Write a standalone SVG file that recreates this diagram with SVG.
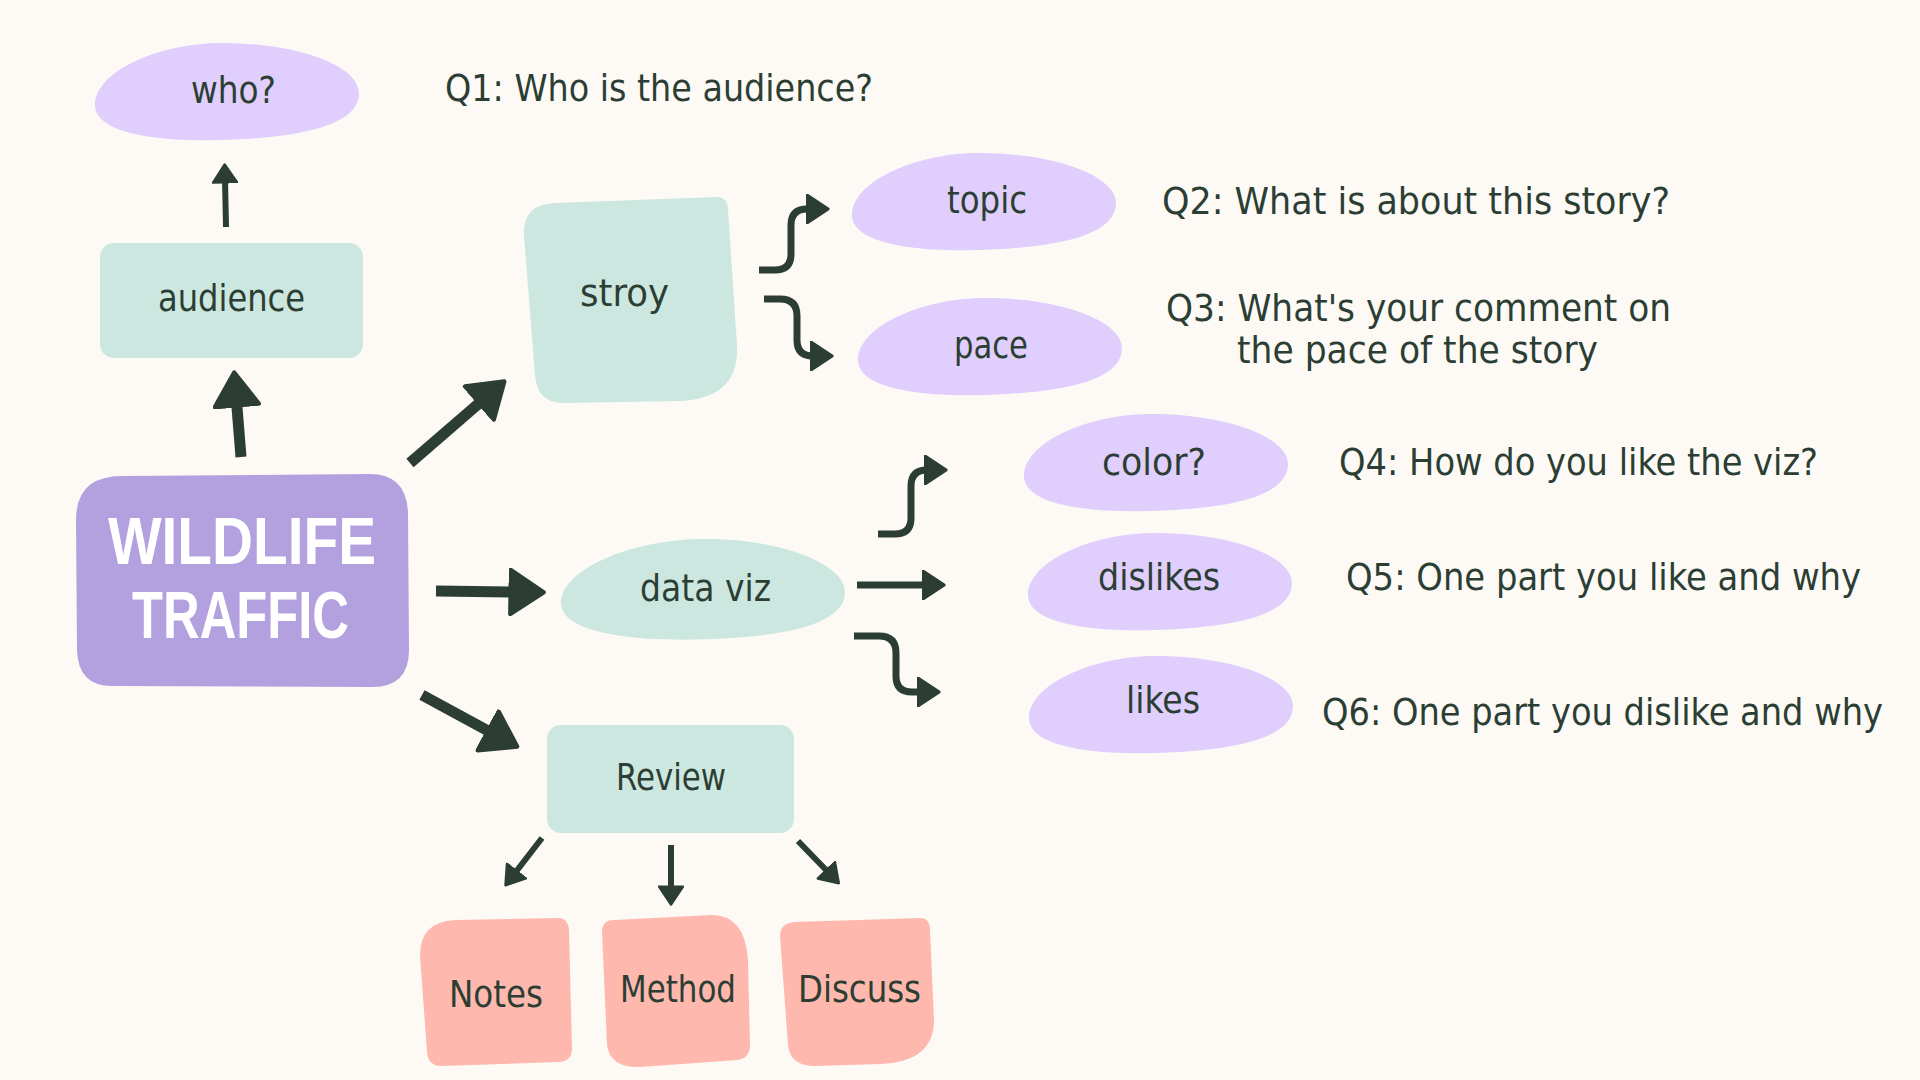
<svg xmlns="http://www.w3.org/2000/svg" xmlns:xlink="http://www.w3.org/1999/xlink" width="1920" height="1080" viewBox="0 0 1920 1080">
  <defs>
    <style>
      .lbl { font-family: "Liberation Sans Narrow", "DejaVu Sans Condensed", "Liberation Sans", sans-serif; font-size: 38px; fill: #2c3e33; }
      .q { font-family: "Liberation Sans Narrow", "DejaVu Sans Condensed", "Liberation Sans", sans-serif; font-size: 38px; fill: #2c3e33; }
      .title { font-family: "Liberation Sans", "DejaVu Sans", sans-serif; font-size: 66px; font-weight: bold; fill: #ffffff; }
      .lav { fill: #e0cffc; }
      .mint { fill: #cce7df; }
      .purple { fill: #b3a0de; }
      .salmon { fill: #ffb8ae; }
      .conn { fill: none; stroke: #2c3e33; stroke-linecap: butt; stroke-linejoin: round; marker-end: url(#ah); }
      .thick { stroke-width: 11; }
      .thin { stroke-width: 6; }
      .mid { stroke-width: 7; }
    </style>
    <marker id="ah" viewBox="0 0 3.4 4.4" refX="0.6" refY="2.2" markerWidth="3.4" markerHeight="4.4" orient="auto" markerUnits="strokeWidth">
      <path d="M0.2,0.2 L3.2,2.2 L0.2,4.2 Z" fill="#2c3e33" stroke="#2c3e33" stroke-width="0.4" stroke-linejoin="round"/>
    </marker>
    <path id="blob" d="M0,62 C0,30 60,0 128,0 C200,0 264,22 264,50 C264,80 215,92 150,96 C70,101 0,92 0,62 Z"/>
  </defs>

  <rect x="0" y="0" width="1920" height="1080" fill="#fdfaf6"/>

  <g id="connectors">
    <path class="conn thin" d="M226,227 L225,180"/>
    <path class="conn thick" d="M241,457 L236.5,401"/>
    <path class="conn thick" d="M410,463 L482.7,400.1"/>
    <path class="conn thick" d="M436,591 L515,592"/>
    <path class="conn thick" d="M422,695 L492,733"/>
    <path class="conn mid" d="M759,270 L775,270 Q791,270 791,254 L791,225 Q791,209 807,209 L810,209"/>
    <path class="conn mid" d="M764,299 L780,299 Q797,299 797,316 L797,340 Q797,356 813,356 L814,356"/>
    <path class="conn mid" d="M878,534 L895,534 Q911,534 911,518 L911,486 Q911,470 927,470 L928,470"/>
    <path class="conn mid" d="M857,585 L926,585"/>
    <path class="conn mid" d="M854,636 L879,636 Q896,636 896,653 L896,676 Q896,692 912,692 L921,692"/>
    <path class="conn thin" d="M542,838 L515,873"/>
    <path class="conn thin" d="M671,845 L671,889"/>
    <path class="conn thin" d="M798,841 L828,872"/>
  </g>

  <g id="node-wildlife">
    <path class="purple" d="M76,520 Q76,476 122,476 L370,474 Q406,474 408,512 L409,650 Q409,687 372,687 L112,686 Q78,686 77,650 Z"/>
    <text class="title" x="108" y="564" textLength="268" lengthAdjust="spacingAndGlyphs">WILDLIFE</text>
    <text class="title" x="132" y="638" textLength="217" lengthAdjust="spacingAndGlyphs">TRAFFIC</text>
  </g>

  <g id="node-audience">
    <rect class="mint" x="100" y="243" width="263" height="115" rx="14"/>
    <text class="lbl" x="158" y="311" textLength="147" lengthAdjust="spacingAndGlyphs">audience</text>
  </g>

  <g id="node-who">
    <use xlink:href="#blob" class="lav" transform="translate(95,43)"/>
    <text class="lbl" x="191" y="103" textLength="85" lengthAdjust="spacingAndGlyphs">who?</text>
  </g>
  <g id="text-q1">
    <text class="q" x="445" y="101" textLength="428" lengthAdjust="spacingAndGlyphs">Q1: Who is the audience?</text>
  </g>

  <g id="node-stroy">
    <path class="mint" d="M524,236 Q522,204 556,203 L716,197 Q728,197 728,210 L737,345 Q740,398 680,401 L565,403 Q537,404 535,375 Z"/>
    <text class="lbl" x="580" y="306" textLength="89" lengthAdjust="spacingAndGlyphs">stroy</text>
  </g>

  <g id="node-topic">
    <use xlink:href="#blob" class="lav" transform="translate(852,153)"/>
    <text class="lbl" x="947" y="213" textLength="80" lengthAdjust="spacingAndGlyphs">topic</text>
  </g>
  <g id="text-q2">
    <text class="q" x="1162" y="214" textLength="508" lengthAdjust="spacingAndGlyphs">Q2: What is about this story?</text>
  </g>

  <g id="node-pace">
    <use xlink:href="#blob" class="lav" transform="translate(858,298)"/>
    <text class="lbl" x="954" y="358" textLength="74" lengthAdjust="spacingAndGlyphs">pace</text>
  </g>
  <g id="text-q3">
    <text class="q" x="1166" y="321" textLength="505" lengthAdjust="spacingAndGlyphs">Q3: What's your comment on</text>
    <text class="q" x="1237" y="363" textLength="361" lengthAdjust="spacingAndGlyphs">the pace of the story</text>
  </g>

  <g id="node-dataviz">
    <path class="mint" d="M561,603 C561,570 630,539 705,539 C785,539 845,565 845,592 C845,620 800,634 730,638 C640,644 561,634 561,603 Z"/>
    <text class="lbl" x="640" y="601" textLength="131" lengthAdjust="spacingAndGlyphs">data viz</text>
  </g>

  <g id="node-color">
    <use xlink:href="#blob" class="lav" transform="translate(1024,414)"/>
    <text class="lbl" x="1102" y="475" textLength="104" lengthAdjust="spacingAndGlyphs">color?</text>
  </g>
  <g id="text-q4">
    <text class="q" x="1339" y="475" textLength="479" lengthAdjust="spacingAndGlyphs">Q4: How do you like the viz?</text>
  </g>

  <g id="node-dislikes">
    <use xlink:href="#blob" class="lav" transform="translate(1028,533)"/>
    <text class="lbl" x="1098" y="590" textLength="122" lengthAdjust="spacingAndGlyphs">dislikes</text>
  </g>
  <g id="text-q5">
    <text class="q" x="1346" y="590" textLength="515" lengthAdjust="spacingAndGlyphs">Q5: One part you like and why</text>
  </g>

  <g id="node-likes">
    <use xlink:href="#blob" class="lav" transform="translate(1029,656)"/>
    <text class="lbl" x="1126" y="713" textLength="74" lengthAdjust="spacingAndGlyphs">likes</text>
  </g>
  <g id="text-q6">
    <text class="q" x="1322" y="725" textLength="561" lengthAdjust="spacingAndGlyphs">Q6: One part you dislike and why</text>
  </g>

  <g id="node-review">
    <rect class="mint" x="547" y="725" width="247" height="108" rx="14"/>
    <text class="lbl" x="616" y="790" textLength="110" lengthAdjust="spacingAndGlyphs">Review</text>
  </g>

  <g id="node-notes">
    <path class="salmon" d="M420,955 Q420,922 455,920 L558,918 Q568,918 569,930 L572,1048 Q572,1062 558,1062 L442,1066 Q428,1066 427,1052 Z"/>
    <text class="lbl" x="449" y="1007" textLength="94" lengthAdjust="spacingAndGlyphs">Notes</text>
  </g>
  <g id="node-method">
    <path class="salmon" d="M602,932 Q602,920 614,920 L712,915 Q745,915 748,960 L750,1045 Q750,1058 738,1060 L640,1067 Q610,1068 607,1045 Z"/>
    <text class="lbl" x="620" y="1002" textLength="116" lengthAdjust="spacingAndGlyphs">Method</text>
  </g>
  <g id="node-discuss">
    <path class="salmon" d="M780,936 Q780,923 795,922 L920,918 Q930,918 930,930 L934,1020 Q934,1062 880,1064 L815,1066 Q790,1066 788,1045 Z"/>
    <text class="lbl" x="798" y="1002" textLength="123" lengthAdjust="spacingAndGlyphs">Discuss</text>
  </g>
</svg>
